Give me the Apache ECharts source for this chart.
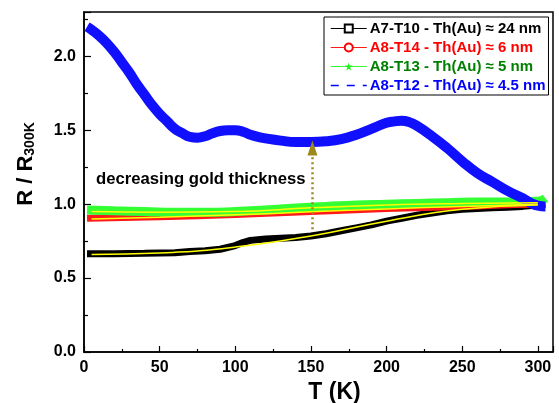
<!DOCTYPE html>
<html>
<head>
<meta charset="utf-8">
<title>R / R300K vs T</title>
<script src="https://cdn.jsdelivr.net/npm/echarts@6/dist/echarts.min.js"></script>
<style>
html, body { margin: 0; padding: 0; background: #fff; }
#main { width: 559px; height: 403px; }
</style>
</head>
<body>
<div id="main"></div>
<script>
// temperatures (K) and normalised resistance
var tempA = [2, 10, 20, 30, 40, 50, 60, 70, 80, 90, 100, 105, 110, 120, 130, 140, 150, 160, 170, 180, 190, 200, 210, 220, 230, 240, 250, 260, 270, 280, 290, 300, 305];
var a7t10 = [0.665, 0.665, 0.665, 0.667, 0.668, 0.67, 0.672, 0.68, 0.685, 0.695, 0.72, 0.74, 0.755, 0.765, 0.77, 0.775, 0.785, 0.80, 0.82, 0.84, 0.86, 0.885, 0.905, 0.925, 0.94, 0.955, 0.965, 0.97, 0.975, 0.98, 0.985, 0.995, 1.0];

var tempB = [2, 50, 100, 150, 200, 250, 300, 305];
var a8t14 = [0.905, 0.915, 0.93, 0.95, 0.97, 0.985, 1.0, 1.0];

var tempC = [2, 20, 40, 60, 80, 100, 120, 140, 160, 180, 200, 220, 240, 260, 280, 300, 305];
var a8t13 = [0.96, 0.955, 0.95, 0.945, 0.945, 0.95, 0.96, 0.975, 0.985, 0.995, 1.0, 1.005, 1.01, 1.015, 1.015, 1.02, 1.04];

var tempD = [2, 5, 10, 15, 20, 25, 30, 35, 40, 45, 50, 55, 60, 65, 70, 75, 80, 85, 90, 95, 100, 105, 110, 115, 120, 130, 140, 150, 160, 170, 180, 190, 200, 205, 210, 215, 220, 230, 240, 250, 260, 270, 280, 290, 295, 300, 305];
var a8t12 = [2.20, 2.18, 2.14, 2.09, 2.03, 1.96, 1.89, 1.81, 1.74, 1.67, 1.61, 1.56, 1.51, 1.48, 1.455, 1.45, 1.46, 1.48, 1.495, 1.50, 1.50, 1.49, 1.47, 1.455, 1.445, 1.43, 1.42, 1.42, 1.425, 1.44, 1.47, 1.51, 1.55, 1.56, 1.565, 1.555, 1.53, 1.46, 1.38, 1.29, 1.21, 1.15, 1.09, 1.04, 1.01, 0.99, 0.985];

// yellow fit lines
var fitT = [5, 50, 100, 150, 200, 250, 300];
var fitA = [0.66, 0.67, 0.71, 0.785, 0.885, 0.965, 0.995];
var fitB = [0.90, 0.912, 0.928, 0.948, 0.968, 0.985, 1.0];
var fitC = [0.95, 0.945, 0.95, 0.975, 0.995, 1.005, 1.01];

// arrow (T, R)
var arrowFrom = [151, 0.83];
var arrowTo = [151, 1.38];

var names = ['A7-T10 - Th(Au) \u2248 24 nm', 'A8-T14 - Th(Au) \u2248 6 nm', 'A8-T13 - Th(Au) \u2248 5 nm', 'A8-T12 - Th(Au) \u2248 4.5 nm'];

function pairs(xs, ys) {
	return xs.map(function (x, i) { return [x, ys[i]]; });
}

var starPath = 'path://M50,0 L61,35 L98,35 L68,57 L79,91 L50,70 L21,91 L32,57 L2,35 L39,35 Z';
var font = 'Liberation Sans, Arial, sans-serif';

var myChart = echarts.init(document.getElementById('main'));

option = {
	backgroundColor: '#fff',
	animation: false,
	grid: {
		left: 84, right: 6, top: 12, bottom: 51,
		outerBoundsMode: 'none',
		containLabel: false,
		show: true, borderColor: '#000', borderWidth: 1.5
	},
	legend: {
		orient: 'vertical',
		left: 324, top: 17,
		padding: [4, 3, 2, 6],
		itemWidth: 36, itemHeight: 10, itemGap: 4,
		backgroundColor: '#fff',
		borderColor: '#000', borderWidth: 1,
		borderRadius: 0,
		lineStyle: { width: 1 },
		textStyle: { fontFamily: font, fontWeight: 'bold', fontSize: 15, padding: [0, 0, 0, -2] },
		data: [
			{ name: names[0], textStyle: { color: '#000' } },
			{ name: names[1], textStyle: { color: '#ff0000' } },
			{ name: names[2], textStyle: { color: '#008000' } },
			{ name: names[3], textStyle: { color: '#0000ff' }, lineStyle: { type: [8, 8], width: 1.5, color: '#0000ff' }, itemStyle: { opacity: 0 } }
		]
	},
	xAxis: {
		type: 'value',
		min: 0, max: 310, interval: 50,
		name: 'T (K)',
		nameLocation: 'middle',
		nameGap: 27,
		nameTextStyle: { fontFamily: font, fontWeight: 'bold', fontSize: 23, color: '#000', padding: [0, 0, 0, 32] },
		axisLine: { lineStyle: { color: '#000', width: 1.5 } },
		axisTick: { inside: true, length: 6, lineStyle: { color: '#000', width: 1.2 } },
		minorTick: { show: true, splitNumber: 2, length: 3, lineStyle: { color: '#000', width: 1.2 } },
		axisLabel: { fontFamily: font, fontWeight: 'bold', fontSize: 16, color: '#000', margin: 8, showMaxLabel: false },
		splitLine: { show: false }
	},
	yAxis: {
		type: 'value',
		min: 0, max: 2.3, interval: 0.5,
		name: '{m|R / R}{s|300K}',
		nameLocation: 'middle',
		nameGap: 47,
		nameTextStyle: {
			padding: [0, 0, 0, 36],
			rich: {
				m: { fontFamily: font, fontWeight: 'bold', fontSize: 22, color: '#000', verticalAlign: 'bottom', lineHeight: 26 },
				s: { fontFamily: font, fontWeight: 'bold', fontSize: 14, color: '#000', verticalAlign: 'bottom', lineHeight: 20 }
			}
		},
		axisLine: { lineStyle: { color: '#000', width: 1.5 } },
		axisTick: { inside: true, length: 7, lineStyle: { color: '#000', width: 1.2 } },
		minorTick: { show: true, splitNumber: 2, length: 4, lineStyle: { color: '#000', width: 1.2 } },
		axisLabel: {
			fontFamily: font, fontWeight: 'bold', fontSize: 16, color: '#000', margin: 8, showMaxLabel: false,
			formatter: function (v) { return v.toFixed(1); }
		},
		splitLine: { show: false }
	},
	graphic: [{
		type: 'text',
		left: 96, top: 171,
		style: { text: 'decreasing gold thickness', font: 'bold 16.7px ' + font, fill: '#000' }
	}],
	series: [
		{
			name: names[0], type: 'line', data: pairs(tempA, a7t10),
			symbol: 'emptyRect', showSymbol: false, color: '#000',
			lineStyle: { width: 7, color: '#000' }
		},
		{
			name: names[1], type: 'line', data: pairs(tempB, a8t14), smooth: true,
			symbol: 'emptyCircle', showSymbol: false, color: '#ff0000',
			lineStyle: { width: 7, color: '#ff1a1a' }
		},
		{
			name: names[2], type: 'line', data: pairs(tempC, a8t13), smooth: true,
			symbol: starPath, showSymbol: false, color: '#22ee22',
			lineStyle: { width: 9, color: '#33ff33' }
		},
		{
			name: names[3], type: 'line', data: pairs(tempD, a8t12), smooth: true,
			symbol: 'circle', showSymbol: false, color: '#0000ff',
			lineStyle: { width: 10, color: '#1010ff' }
		},
		{
			name: 'fit A', type: 'line', data: pairs(fitT, fitA), smooth: true,
			symbol: 'none', lineStyle: { width: 1.5, color: '#ffff00' }
		},
		{
			name: 'fit B', type: 'line', data: pairs(fitT, fitB), smooth: true,
			symbol: 'none', lineStyle: { width: 1.5, color: '#ffff00' }
		},
		{
			name: 'fit C', type: 'line', data: pairs(fitT, fitC), smooth: true,
			symbol: 'none', lineStyle: { width: 1.5, color: '#ffff00' },
			markLine: {
				silent: true,
				symbol: ['none', 'triangle'],
				symbolSize: [10, 15],
				label: { show: false },
				lineStyle: { color: '#9c8a1e', type: [2, 3], width: 2.5 },
				data: [[{ coord: arrowFrom }, { coord: arrowTo }]]
			}
		}
	]
};
myChart.setOption(option);
</script>
</body>
</html>
